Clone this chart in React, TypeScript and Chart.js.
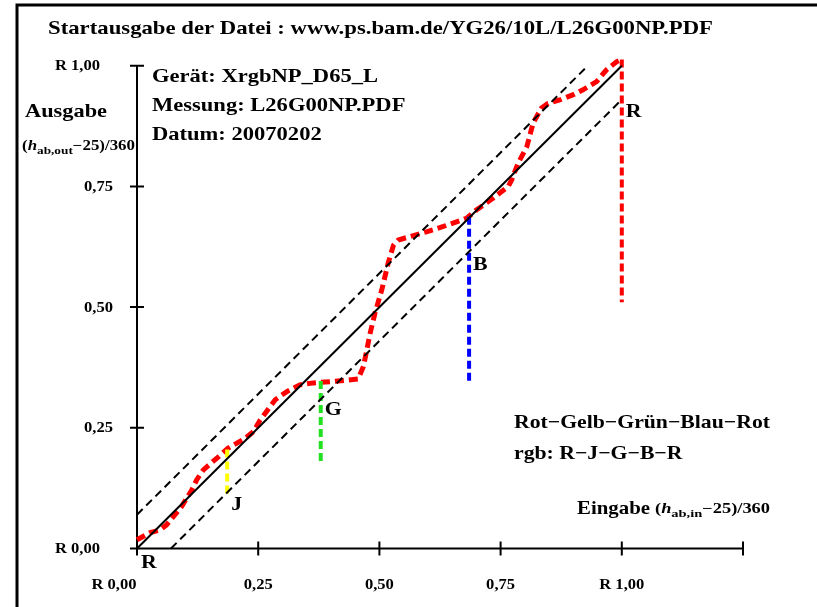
import React, { useEffect, useRef } from "react";
import { Chart, registerables } from "chart.js";

Chart.register(...registerables);

// ---------- data ----------
const titleText = "Startausgabe der Datei : www.ps.bam.de/YG26/10L/L26G00NP.PDF";
const infoLines = ["Gerät: XrgbNP_D65_L", "Messung: L26G00NP.PDF", "Datum: 20070202"];
const legendLines = ["Rot\u2212Gelb\u2212Grün\u2212Blau\u2212Rot", "rgb: R\u2212J\u2212G\u2212B\u2212R"];

const xTickValues = [0, 0.25, 0.5, 0.75, 1.0];
const xTickLabels = ["R 0,00", "0,25", "0,50", "0,75", "R 1,00"];
const yTickValues = [0, 0.25, 0.5, 0.75, 1.0];
const yTickLabels = ["R 0,00", "0,25", "0,50", "0,75", "R 1,00"];

const curveX = [0.0, 0.027, 0.047, 0.061, 0.075, 0.092, 0.113, 0.123, 0.137, 0.168, 0.188, 0.223, 0.24, 0.254, 0.285, 0.309, 0.336, 0.364, 0.405, 0.456, 0.467, 0.474, 0.48, 0.491, 0.505, 0.518, 0.529, 0.539, 0.563, 0.597, 0.632, 0.68, 0.7, 0.735, 0.766, 0.773, 0.786, 0.804, 0.817, 0.834, 0.848, 0.872, 0.9, 0.92, 0.948, 0.968, 0.989, 0.999];
const curveY = [0.018, 0.033, 0.038, 0.049, 0.066, 0.087, 0.121, 0.142, 0.163, 0.19, 0.208, 0.228, 0.242, 0.266, 0.308, 0.325, 0.339, 0.343, 0.346, 0.351, 0.377, 0.411, 0.442, 0.488, 0.536, 0.591, 0.628, 0.639, 0.646, 0.656, 0.667, 0.684, 0.701, 0.726, 0.75, 0.764, 0.798, 0.832, 0.881, 0.912, 0.922, 0.929, 0.94, 0.95, 0.967, 0.991, 1.008, 1.013];

const diagonalX = [0, 1];
const diagonalY = [0, 1];
const upperX = [0, 0.93];
const upperY = [0.07, 1.0];
const lowerX = [0.07, 1.0];
const lowerY = [0, 0.93];

const markerNames = ["J", "G", "B", "R"];
const markerX = [0.186, 0.379, 0.685, 1.0];
const markerTop = [0.205, 0.347, 0.687, 1.013];
const markerBottom = [0.108, 0.174, 0.344, 0.51];
const markerLabelY = [0.09, 0.287, 0.587, 0.904];
const markerColors = ["#ffff00", "#22e022", "#0000ff", "#ff0000"];

const FONT = "'Liberation Serif', 'Times New Roman', serif";

const pts = (xs: number[], ys: number[]) => xs.map((x, i) => ({ x, y: ys[i] }));

function stretchText(ctx: CanvasRenderingContext2D, text: string, x: number, y: number, sx: number) {
  ctx.save();
  ctx.translate(x, y);
  ctx.scale(sx, 1);
  ctx.fillText(text, 0, 0);
  ctx.restore();
}

function fitScale(ctx: CanvasRenderingContext2D, text: string, target: number) {
  return target / ctx.measureText(text).width;
}

function drawSubLabel(ctx: CanvasRenderingContext2D, x: number, y: number, size: number, sub: string, target: number) {
  // "(h_sub−25)/360", left aligned at x, vertically centred on y
  const base = y + size * 0.33;
  const ss = Math.round(size * 0.78);
  const parts = [
    { t: "(", f: `bold ${size}px ${FONT}`, dy: 0 },
    { t: "h", f: `italic bold ${size}px ${FONT}`, dy: 0 },
    { t: sub, f: `bold ${ss}px ${FONT}`, dy: size * 0.3 },
    { t: "\u221225)/360", f: `bold ${size}px ${FONT}`, dy: 0 },
  ];
  let total = 0;
  parts.forEach((p) => {
    ctx.font = p.f;
    total += ctx.measureText(p.t).width;
  });
  const sx = target / total;
  ctx.save();
  ctx.translate(x, base);
  ctx.scale(sx, 1);
  ctx.textAlign = "left";
  ctx.textBaseline = "alphabetic";
  let cx = 0;
  parts.forEach((p) => {
    ctx.font = p.f;
    ctx.fillText(p.t, cx, p.dy);
    cx += ctx.measureText(p.t).width;
  });
  ctx.restore();
}

const decorPlugin = {
  id: "decor",
  beforeDraw(chart: any) {
    const ctx: CanvasRenderingContext2D = chart.ctx;
    ctx.save();
    ctx.fillStyle = "#ffffff";
    ctx.fillRect(0, 0, chart.width, chart.height);
    // frame
    ctx.strokeStyle = "#000";
    ctx.lineWidth = 3;
    ctx.beginPath();
    ctx.moveTo(17, chart.height + 5);
    ctx.lineTo(17, 5);
    ctx.lineTo(chart.width + 5, 5);
    ctx.stroke();

    const xs = chart.scales.x;
    const ys = chart.scales.y;
    const x0 = xs.getPixelForValue(0);
    const y0 = ys.getPixelForValue(0);
    const y1 = ys.getPixelForValue(1);
    const xEnd = xs.getPixelForValue(xs.max);
    ctx.lineWidth = 2;
    ctx.beginPath();
    ctx.moveTo(x0 - 7, y0);
    ctx.lineTo(xEnd, y0);
    ctx.moveTo(x0, y0 + 7);
    ctx.lineTo(x0, y1);
    xTickValues.forEach((v) => {
      const px = xs.getPixelForValue(v);
      ctx.moveTo(px, y0 - 7);
      ctx.lineTo(px, y0 + 7);
    });
    ctx.moveTo(xEnd, y0 - 7);
    ctx.lineTo(xEnd, y0 + 7);
    yTickValues.forEach((v) => {
      const py = ys.getPixelForValue(v);
      ctx.moveTo(x0 - 7, py);
      ctx.lineTo(x0 + 7, py);
    });
    ctx.stroke();
    ctx.restore();
  },
  afterDraw(chart: any) {
    const ctx: CanvasRenderingContext2D = chart.ctx;
    const xs = chart.scales.x;
    const ys = chart.scales.y;
    const x0 = xs.getPixelForValue(0);
    const y0 = ys.getPixelForValue(0);
    ctx.save();
    ctx.fillStyle = "#000";
    ctx.textAlign = "left";
    ctx.textBaseline = "alphabetic";

    // title
    ctx.font = `bold 19px ${FONT}`;
    stretchText(ctx, titleText, 48, 34, fitScale(ctx, titleText, 665));

    // info block
    ctx.font = `bold 19px ${FONT}`;
    const infoSx = fitScale(ctx, infoLines[0], 226);
    infoLines.forEach((t, i) => stretchText(ctx, t, 152, 82 + i * 29, infoSx));

    // y label
    ctx.font = `bold 19px ${FONT}`;
    stretchText(ctx, "Ausgabe", 25, 117, fitScale(ctx, "Ausgabe", 82));
    drawSubLabel(ctx, 22, 145, 14, "ab,out", 113);

    // tick labels
    ctx.font = `bold 14px ${FONT}`;
    const tickSx = fitScale(ctx, "0,75", 29);
    ctx.textBaseline = "middle";
    ctx.textAlign = "right";
    yTickValues.forEach((v, i) => {
      const py = ys.getPixelForValue(v);
      const lab = yTickLabels[i];
      const right = lab.startsWith("R") ? x0 - 37 : x0 - 24;
      stretchText(ctx, lab, right, py + 1, tickSx);
    });
    ctx.textAlign = "center";
    xTickValues.forEach((v, i) => {
      const px = xs.getPixelForValue(v);
      const lab = xTickLabels[i];
      const off = i === 0 ? -23 : 0;
      stretchText(ctx, lab, px + off, y0 + 37, tickSx);
    });

    // legend text
    ctx.textAlign = "left";
    ctx.textBaseline = "alphabetic";
    ctx.font = `bold 19px ${FONT}`;
    const legSx = fitScale(ctx, legendLines[0], 256);
    legendLines.forEach((t, i) => stretchText(ctx, t, 514, 428 + i * 31, legSx));

    // x label
    stretchText(ctx, "Eingabe", 577, 514, fitScale(ctx, "Eingabe", 73));
    drawSubLabel(ctx, 655, 508, 14, "ab,in", 115);

    // marker letters
    ctx.font = `bold 19px ${FONT}`;
    ctx.textBaseline = "middle";
    markerNames.forEach((n, i) => {
      const px = xs.getPixelForValue(markerX[i]);
      const py = ys.getPixelForValue(markerLabelY[i]);
      stretchText(ctx, n, px + 4, py, 1.15);
    });
    stretchText(ctx, "R", x0 + 4, y0 + 15, 1.15);
    ctx.restore();
  },
};

export default function App() {
  const ref = useRef<HTMLCanvasElement | null>(null);
  useEffect(() => {
    if (!ref.current) return;
    const markerSets = markerNames.map((n, i) => ({
      label: n,
      data: [
        { x: markerX[i], y: markerTop[i] },
        { x: markerX[i], y: markerBottom[i] },
      ],
      borderColor: markerColors[i],
      borderWidth: 4,
      borderDash: [8, 4],
      pointRadius: 0,
      showLine: true,
    }));
    const chart = new Chart(ref.current, {
      type: "scatter",
      data: {
        datasets: [
          { label: "diag", data: pts(diagonalX, diagonalY), borderColor: "#000", borderWidth: 2, pointRadius: 0, showLine: true },
          { label: "upper", data: pts(upperX, upperY), borderColor: "#000", borderWidth: 2, borderDash: [8, 5], pointRadius: 0, showLine: true },
          { label: "lower", data: pts(lowerX, lowerY), borderColor: "#000", borderWidth: 2, borderDash: [8, 5], pointRadius: 0, showLine: true },
          ...markerSets,
          { label: "curve", data: pts(curveX, curveY), borderColor: "#ff0000", borderWidth: 5, borderDash: [9, 5], pointRadius: 0, showLine: true, tension: 0 },
        ] as any,
      },
      options: {
        animation: false,
        responsive: false,
        clip: false as any,
        layout: { padding: { left: 137, right: 74, top: 65.7, bottom: 58.5 } },
        plugins: { legend: { display: false }, tooltip: { enabled: false }, title: { display: false } },
        scales: {
          x: { type: "linear", min: 0, max: 1.25, display: false },
          y: { type: "linear", min: 0, max: 1.0, display: false },
        },
      },
      plugins: [decorPlugin],
    });
    return () => chart.destroy();
  }, []);
  return (
    <div style={{ position: "absolute", left: 0, top: 0, width: 817, height: 607 }}>
      <canvas ref={ref} width={817} height={607} style={{ display: "block" }} />
    </div>
  );
}
